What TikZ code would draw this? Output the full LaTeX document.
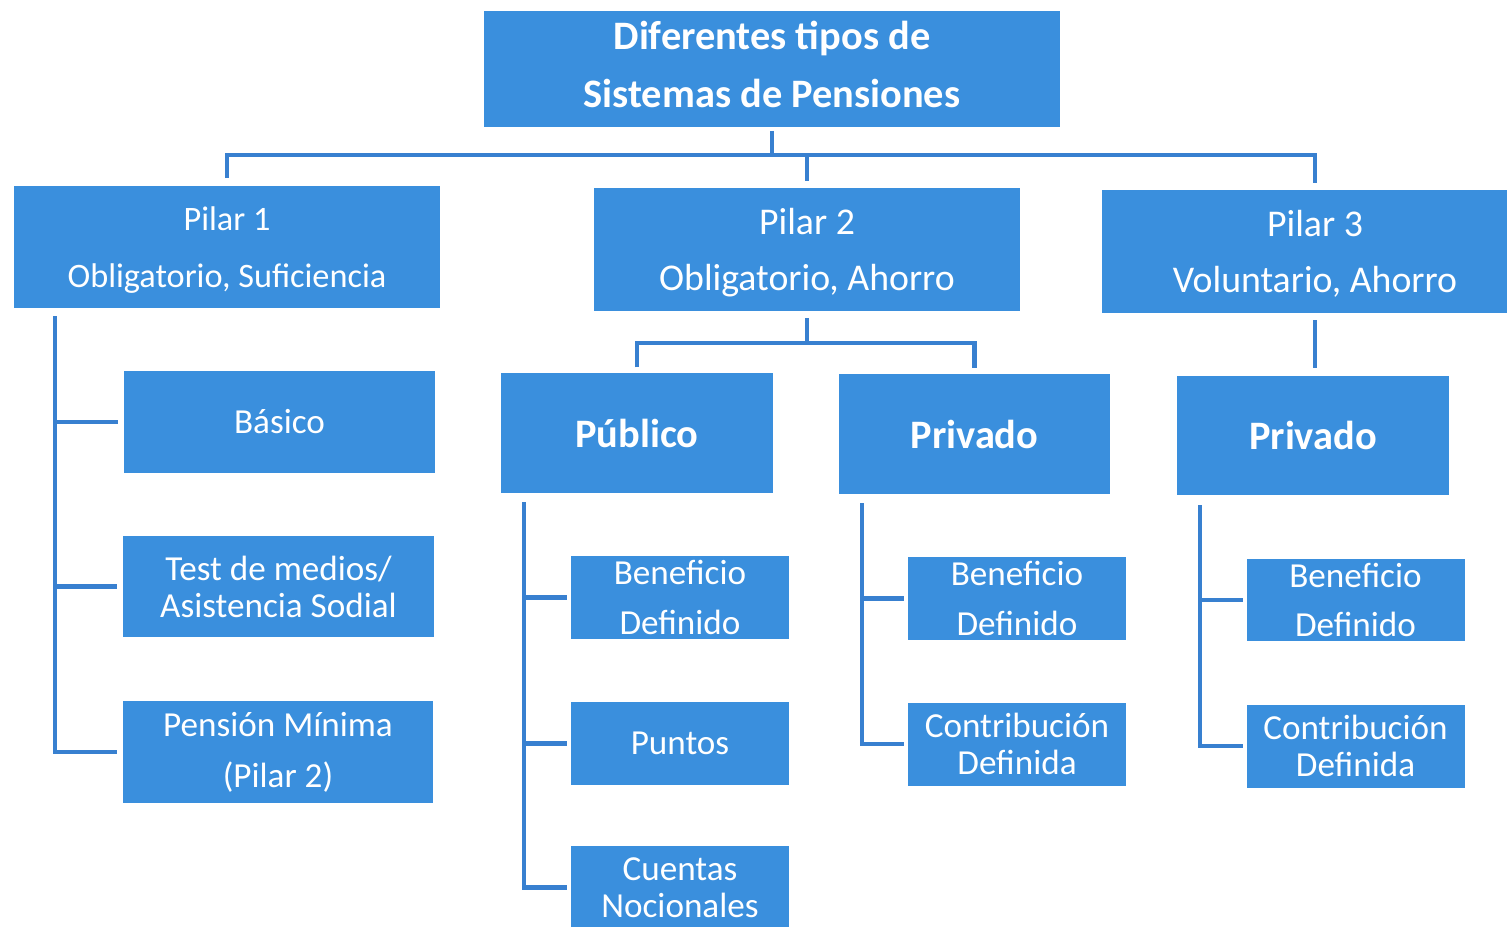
\documentclass[tikz,border=0pt]{standalone}
\usepackage{fontspec}
\setmainfont{Carlito}
\definecolor{boxblue}{RGB}{58,143,221}
\definecolor{lineblue}{RGB}{56,128,208}
\begin{document}
\begin{tikzpicture}[x=0.02cm,y=-0.02cm,
 boxbase/.style={fill=boxblue,text=white,inner sep=0pt,align=center},
 titlebox/.style={boxbase,minimum width=11.52cm,minimum height=2.32cm,text depth=5.6pt,font=\bfseries\fontsize{23}{33}\selectfont},
 pilarbox/.style={boxbase,minimum width=8.52cm,minimum height=2.46cm,text depth=0pt,font=\fontsize{21.5}{32}\selectfont},
 subbox/.style={boxbase,minimum width=6.22cm,minimum height=2.04cm,font=\fontsize{20}{29}\selectfont},
 catbox/.style={boxbase,minimum width=5.44cm,minimum height=2.40cm,font=\bfseries\fontsize{23}{28}\selectfont},
 leafbox/.style={boxbase,minimum width=4.36cm,minimum height=1.66cm,font=\fontsize{20}{28}\selectfont},
 tightfont/.style={font=\fontsize{20}{21}\selectfont},
 conn/.style={draw=lineblue,line width=2.8pt}]
\useasboundingbox (0,0) rectangle (1507,926);
\clip (0,0) rectangle (1507,926);
\node[titlebox] (top) at (772,69) {Diferentes tipos de\\Sistemas de Pensiones};
\node[pilarbox,font=\fontsize{19.5}{32}\selectfont] (p1) at (227,247) {Pilar 1\\Obligatorio, Suficiencia};
\node[pilarbox] (p2) at (807,249.5) {Pilar 2\\Obligatorio, Ahorro};
\node[pilarbox] (p3) at (1315,251.5) {Pilar 3\\Voluntario, Ahorro};
\node[subbox] (bas) at (279.5,422) {Básico};
\node[subbox,tightfont] (test) at (278.5,586.5) {Test de medios/\\Asistencia Sodial};
\node[subbox] (pen) at (278,752) {Pensión Mínima\\(Pilar 2)};
\node[catbox] (pub) at (637,433) {Público};
\node[catbox] (pri2) at (974.5,434) {Privado};
\node[catbox] (pri3) at (1313,435.5) {Privado};
\node[leafbox] (bd1) at (680,597.5) {Beneficio\\Definido};
\node[leafbox] (pts) at (680,743.5) {Puntos};
\node[leafbox,tightfont] (cn) at (680,887.5) {Cuentas\\Nocionales};
\node[leafbox] (bd2) at (1017,598.5) {Beneficio\\Definido};
\node[leafbox,tightfont] (cd2) at (1017,744) {Contribución\\Definida};
\node[leafbox] (bd3) at (1355.5,600) {Beneficio\\Definido};
\node[leafbox,tightfont] (cd3) at (1355.5,746) {Contribución\\Definida};
% level 1 connectors
\coordinate (bus1) at (0,155);
\draw[conn,shorten <=2pt] (top.south) -- (top.south |- bus1);
\draw[conn,shorten <=4pt,shorten >=4pt] (p1.north) -- (p1.north |- bus1) -- (p3.north |- bus1) -- (p3.north);
\draw[conn,shorten >=4pt] (p2.north |- bus1) -- (p2.north);
% pilar 2
\coordinate (bus2) at (0,343);
\draw[conn,shorten <=4pt] (p2.south) -- (p2.south |- bus2);
\draw[conn,shorten <=3pt,shorten >=3pt] (pub.north) -- (pub.north |- bus2) -- (pri2.north |- bus2) -- (pri2.north);
% pilar 3
\draw[conn,shorten <=4pt,shorten >=4pt] (p3.south) -- (p3.south |- pri3.north);
% pilar 1 tree
\coordinate (v1) at (55,316);
\draw[conn,shorten >=3pt] (v1) -- (v1 |- pen.west) -- (pen.west);
\draw[conn,shorten >=3pt] (v1 |- bas.west) -- (bas.west);
\draw[conn,shorten >=3pt] (v1 |- test.west) -- (test.west);
% publico tree
\coordinate (v2) at (524,502);
\draw[conn,shorten >=2pt] (v2) -- (v2 |- cn.west) -- (cn.west);
\draw[conn,shorten >=2pt] (v2 |- bd1.west) -- (bd1.west);
\draw[conn,shorten >=2pt] (v2 |- pts.west) -- (pts.west);
% privado (pilar 2) tree
\coordinate (v3) at (862,503);
\draw[conn,shorten >=2pt] (v3) -- (v3 |- cd2.west) -- (cd2.west);
\draw[conn,shorten >=2pt] (v3 |- bd2.west) -- (bd2.west);
% privado (pilar 3) tree
\coordinate (v4) at (1200,505);
\draw[conn,shorten >=2pt] (v4) -- (v4 |- cd3.west) -- (cd3.west);
\draw[conn,shorten >=2pt] (v4 |- bd3.west) -- (bd3.west);
\end{tikzpicture}
\end{document}
